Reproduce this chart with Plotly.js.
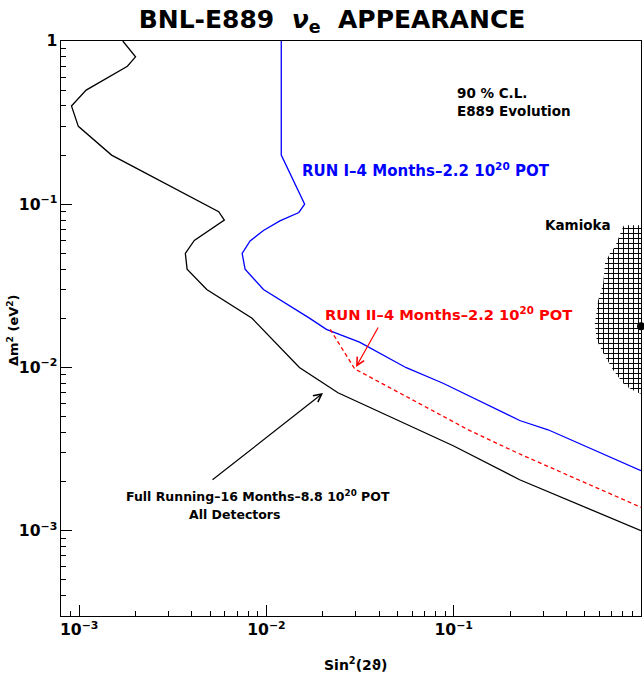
<!DOCTYPE html>
<html><head><meta charset="utf-8">
<script src="https://cdn.plot.ly/plotly-3.0.1.min.js"></script>
<style>html,body{margin:0;padding:0;background:#fff;} #chart{width:644px;height:673px;}</style>
</head><body><div id="chart"></div>
<script>
// ---- data ----
const fullX = [1.71e-3, 2.0e-3, 1.81e-3, 1.09e-3, 9.1e-4, 9.9e-4, 1.49e-3, 5.56e-3, 5.96e-3, 4.12e-3, 3.69e-3, 3.77e-3, 4.8e-3, 8.38e-3, 0.0150, 0.0241, 0.1, 0.225, 1];
const fullY = [1, 0.80, 0.70, 0.50, 0.40, 0.30, 0.20, 0.09, 0.08, 0.06, 0.05, 0.04, 0.03, 0.02, 0.010, 0.007, 0.0033, 0.00205, 0.001];

const run1X = [0.012, 0.012, 0.016, 0.0149, 0.0118, 0.00964, 0.00818, 0.00742, 0.00769, 0.00964, 0.0168, 0.0209, 0.0314, 0.0558, 0.0877, 0.112, 0.225, 0.319, 1];
const run1Y = [1, 0.2, 0.1, 0.089, 0.079, 0.069, 0.0595, 0.05, 0.04, 0.03, 0.0202, 0.0171, 0.0143, 0.00996, 0.0080, 0.00696, 0.00473, 0.00415, 0.00233];

const run2X = [0.0219, 0.0296, 0.122, 0.225, 1];
const run2Y = [0.0171, 0.0098, 0.0041, 0.00295, 0.00139];

const kamX = [0.811, 0.788, 0.726, 0.683, 0.642, 0.629, 0.591, 0.567, 0.580, 0.629, 0.711, 0.821, 0.948, 1.0, 1.3, 1.3, 1.0, 0.929];
const kamY = [0.0743, 0.0692, 0.0547, 0.050, 0.0434, 0.0328, 0.0258, 0.01853, 0.01465, 0.0122, 0.0096, 0.00776, 0.00705, 0.0069, 0.0069, 0.0743, 0.0743, 0.0743];
const kamBestX = [1.0];
const kamBestY = [0.01785];

const xRange = [8e-4, 1];
const yRange = [3e-4, 1];

const titleText = 'BNL-E889\u00a0\u00a0<i>ν</i><sub>e</sub>\u00a0\u00a0APPEARANCE';
const xTitle = 'Sin<sup>2</sup>(2ϑ)';
const yTitle = 'Δm<sup>2</sup> (eV<sup>2</sup>)';
const labelRun1 = 'RUN I–4 Months–2.2 10<sup>20</sup> POT';
const labelRun2 = 'RUN II–4 Months–2.2 10<sup>20</sup> POT';
const labelFull1 = 'Full Running–16 Months–8.8 10<sup>20</sup> POT';
const labelFull2 = 'All Detectors';
const labelCL1 = '90 % C.L.';
const labelCL2 = 'E889 Evolution';
const labelKam = 'Kamioka';

// ---- layout geometry ----
const W = 644, H = 673, ML = 61, MR = 3, MT = 41, MB = 57;
const PW = W - ML - MR, PH = H - MT - MB;
const px = x => (x - ML) / PW;
const py = y => (H - MB - y) / PH;
const FONT = 'DejaVu Sans, Liberation Sans, Arial, sans-serif';
const f = (size, color) => ({family: FONT, size: size, color: color || '#000', weight: 'bold'});

const lineW = 1.3;
const traces = [
  {x: kamX, y: kamY, mode: 'none', fill: 'toself', fillcolor: 'white',
   fillpattern: {shape: '+', size: 5, solidity: 0.35, fgcolor: '#000', bgcolor: '#fff'},
   hoverinfo: 'skip', showlegend: false},
  {x: fullX, y: fullY, mode: 'lines', line: {color: '#000', width: lineW}, showlegend: false},
  {x: run1X, y: run1Y, mode: 'lines', line: {color: '#0000ff', width: lineW}, showlegend: false},
  {x: run2X, y: run2Y, mode: 'lines', line: {color: '#ff0000', width: lineW, dash: '4px,3px'}, showlegend: false},
  {x: kamBestX, y: kamBestY, mode: 'markers', marker: {color: '#000', size: 8}, cliponaxis: false, showlegend: false}
];

const axisCommon = {
  type: 'log', showgrid: false, zeroline: false, showline: true, linecolor: '#000', linewidth: 1.2,
  mirror: true, ticks: 'inside', ticklen: 11, tickwidth: 1, tickcolor: '#000', dtick: 1,
  exponentformat: 'power',
  tickfont: f(12.5),
  minor: {ticks: 'inside', ticklen: 5, tickwidth: 1, tickcolor: '#000', dtick: 'D1', showgrid: false}
};

const txt = (text, x, y, opts) => Object.assign({
  text: text, xref: 'paper', yref: 'paper', x: px(x), y: py(y), showarrow: false,
  xanchor: 'center', yanchor: 'middle', font: f(13)
}, opts || {});

const arrow = (hx, hy, tx, ty, color) => ({
  text: '', xref: 'paper', yref: 'paper', x: px(hx), y: py(hy), ax: tx - hx, ay: ty - hy,
  showarrow: true, arrowhead: 5, arrowsize: 1.3, arrowwidth: 1.2, arrowcolor: color,
  standoff: 0, startstandoff: 0
});

const layout = {
  width: W, height: H, margin: {l: ML, r: MR, t: MT, b: MB, pad: 0},
  paper_bgcolor: '#fff', plot_bgcolor: '#fff', showlegend: false,
  title: {text: titleText, x: 332 / W, xanchor: 'center', y: 1 - 19 / H, yanchor: 'middle', font: f(25)},
  xaxis: Object.assign({}, axisCommon, {range: [Math.log10(xRange[0]), Math.log10(xRange[1])]}),
  yaxis: Object.assign({}, axisCommon, {range: [Math.log10(yRange[0]), Math.log10(yRange[1])]}),
  annotations: [
    txt(xTitle, 355, 664, {font: f(14)}),
    txt(yTitle, 13, 330, {textangle: -90, font: f(13)}),
    txt(labelCL1, 455, 93, {xanchor: 'left', font: f(13.5)}),
    txt(labelCL2, 455, 111, {xanchor: 'left', font: f(13.5)}),
    txt(labelKam, 578, 225, {font: f(13.5)}),
    txt(labelRun1, 300, 170, {xanchor: 'left', font: f(15, '#0000ff')}),
    txt(labelRun2, 323, 313, {xanchor: 'left', font: f(14.7, '#ff0000')}),
    txt(labelFull1, 258, 496, {font: f(12.5)}),
    txt(labelFull2, 234, 514, {font: f(12.5)}),
    arrow(356, 367, 379, 326, '#ff0000'),
    arrow(323, 393, 211, 481, '#000')
  ]
};

Plotly.newPlot('chart', traces, layout, {displayModeBar: false, staticPlot: true});
</script>
</body></html>
